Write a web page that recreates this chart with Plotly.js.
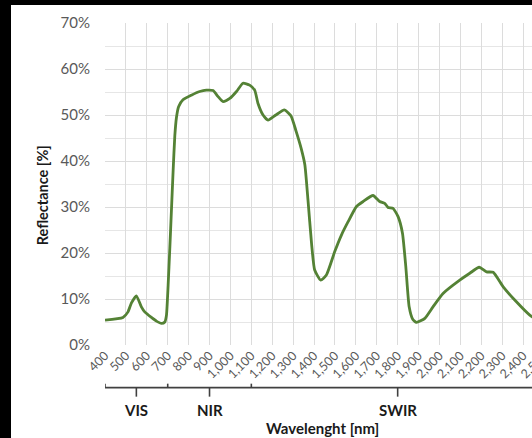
<!DOCTYPE html>
<html>
<head>
<meta charset="utf-8">
<script src="https://cdn.plot.ly/plotly-3.0.1.min.js"></script>
<style>
  html, body { margin: 0; padding: 0; background: #000; overflow: hidden; width: 532px; height: 438px; }
  #wrap { position: absolute; left: 11px; top: 5px; width: 560px; height: 433px; background: #fff; }
  #chart { width: 560px; height: 433px; }
</style>
</head>
<body>
<div id="wrap"><div id="chart"></div></div>
<script>
// Data
const wavelength = [400, 486, 510, 526, 550, 574, 590, 622, 646, 670, 686, 694, 702, 710, 718, 726, 734, 742, 752, 773, 813, 853, 885, 917, 941, 965, 997, 1029, 1060, 1092, 1116, 1132, 1156, 1180, 1217, 1258, 1290, 1314, 1338, 1356, 1371, 1388, 1403, 1432, 1459, 1499, 1531, 1563, 1603, 1635, 1682, 1714, 1738, 1754, 1778, 1802, 1823, 1839, 1855, 1872, 1890, 1930, 1969, 2017, 2097, 2145, 2190, 2225, 2257, 2304, 2368, 2432, 2500];
const reflectance = [5.4, 6.0, 7.2, 9.1, 10.7, 8.3, 7.2, 6.0, 5.2, 4.7, 5.0, 6.5, 13.0, 21.0, 29.5, 38.0, 45.5, 49.5, 51.8, 53.3, 54.3, 55.1, 55.4, 55.3, 54.0, 52.9, 53.6, 55.1, 56.9, 56.5, 55.4, 52.5, 50.0, 48.9, 50.0, 51.1, 49.8, 46.5, 42.8, 39.2, 31.5, 22.1, 16.3, 14.1, 15.2, 20.3, 23.9, 26.8, 30.1, 31.2, 32.5, 31.2, 30.8, 29.9, 29.7, 27.9, 24.3, 17.0, 8.3, 5.6, 4.9, 5.8, 8.3, 11.2, 14.1, 15.6, 16.9, 15.9, 15.8, 12.7, 9.4, 6.5, 4.5];
const regionNames = ['VIS', 'NIR', 'SWIR'];
const regionBounds = [400, 700, 1100, 2500];
const xTitle = 'Wavelenght [nm]';
const yTitle = 'Reflectance [%]';

// Plot geometry helpers (paper coords)
const bracketY = -0.1325, bracketUp = -0.1201, bracketDown = -0.1604, labelY = -0.203;
const lineColor = '#404040';

const shapes = [];
const annotations = [];
shapes.push({type: 'line', xref: 'x', yref: 'paper', x0: regionBounds[0], x1: regionBounds[regionBounds.length - 1], y0: bracketY, y1: bracketY, line: {color: lineColor, width: 1.6}});
for (let i = 0; i < regionBounds.length; i++) {
  shapes.push({type: 'line', xref: 'x', yref: 'paper', x0: regionBounds[i], x1: regionBounds[i], y0: bracketY, y1: bracketUp, line: {color: lineColor, width: 1.6}});
}
for (let i = 0; i < regionNames.length; i++) {
  const c = (regionBounds[i] + regionBounds[i + 1]) / 2;
  shapes.push({type: 'line', xref: 'x', yref: 'paper', x0: c, x1: c, y0: bracketY, y1: bracketDown, line: {color: lineColor, width: 1.6}});
  annotations.push({text: '<b>' + regionNames[i] + '</b>', xref: 'x', yref: 'paper', x: c, y: labelY, showarrow: false, xanchor: 'center', yanchor: 'middle', font: {family: 'Lato', size: 15, color: '#1a1a1a'}});
}
annotations.push({text: '<b>' + xTitle + '</b>', xref: 'paper', yref: 'paper', x: 0.496, y: -0.2566, showarrow: false, xanchor: 'center', yanchor: 'middle', font: {family: 'Lato', size: 15, color: '#1a1a1a'}});
annotations.push({text: '<b>' + yTitle + '</b>', xref: 'paper', yref: 'paper', x: -0.142, y: 0.4639, textangle: -90, showarrow: false, xanchor: 'center', yanchor: 'middle', font: {family: 'Lato', size: 14.5, color: '#1a1a1a'}});

const trace = {
  x: wavelength, y: reflectance, type: 'scatter', mode: 'lines',
  line: {color: '#548235', width: 2.8, shape: 'spline', smoothing: 0.5},
  hoverinfo: 'skip'
};

const layout = {
  width: 560, height: 433,
  margin: {l: 94, r: 27, t: 18, b: 93},
  paper_bgcolor: '#ffffff', plot_bgcolor: '#ffffff',
  showlegend: false,
  xaxis: {
    range: [400, 2500], dtick: 100, tick0: 400, tickformat: ',d', tickangle: -45,
    showgrid: true, gridcolor: '#dcdcdc', gridwidth: 1, zeroline: false, showline: false,
    ticks: '', tickfont: {family: 'Lato', size: 12.5, color: '#595959'}, fixedrange: true
  },
  yaxis: {
    range: [0, 70], dtick: 10, ticksuffix: '%',
    showgrid: true, gridcolor: '#dcdcdc', gridwidth: 1, zeroline: false, showline: false,
    minor: {dtick: 5, showgrid: true, gridcolor: '#e6e6e6', gridwidth: 1},
    ticks: '', ticklabelstandoff: 14, tickfont: {family: 'Lato', size: 15, color: '#595959'}, fixedrange: true
  },
  shapes: shapes,
  annotations: annotations
};

Plotly.newPlot('chart', [trace], layout, {displayModeBar: false, staticPlot: true});
</script>
</body>
</html>
